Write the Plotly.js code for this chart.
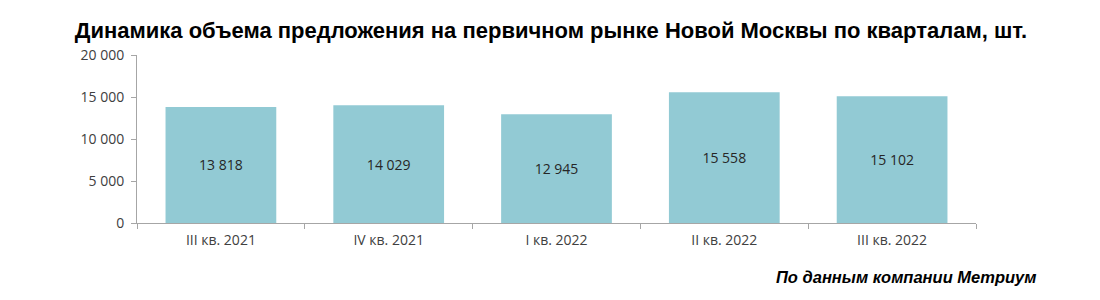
<!DOCTYPE html>
<html><head><meta charset="utf-8">
<script src="https://cdn.plot.ly/plotly-3.0.1.min.js"></script>
<style>html,body{margin:0;padding:0;background:#fff}#chart{width:1100px;height:300px}</style>
</head><body><div id="chart"></div>
<script>
const categories = ["III кв. 2021", "IV кв. 2021", "I кв. 2022", "II кв. 2022", "III кв. 2022"];
const values = [13818, 14029, 12945, 15558, 15102];
const titleText = "Динамика объема предложения на первичном рынке Новой Москвы по кварталам, шт.";
const sourceText = "По данным компании Метриум";

const trace = {
  type: 'bar', x: categories, y: values,
  marker: {color: '#92CAD4'},
  width: 0.66,
  texttemplate: '%{y:,}', textposition: 'inside', insidetextanchor: 'middle',
  textangle: 0,
  textfont: {family: 'Open Sans, sans-serif', size: 14, color: '#262626'},
  hoverinfo: 'none'
};
const layout = {
  width: 1100, height: 300,
  margin: {l: 137, r: 124, t: 55, b: 77},
  paper_bgcolor: '#fff', plot_bgcolor: '#fff',
  separators: ', ',
  showlegend: false,
  title: {text: '<b>' + titleText + '</b>', x: 0.068, xanchor: 'left', y: 0.9, yanchor: 'middle',
    font: {family: 'Liberation Sans, Arial, sans-serif', size: 22, color: '#000'}},
  xaxis: {type: 'category', showline: true, linecolor: '#A6A6A6', linewidth: 1,
    ticks: 'outside', tickson: 'boundaries', ticklen: 5, tickcolor: '#A6A6A6',
    ticklabelstandoff: 4,
    showgrid: false, zeroline: false,
    tickfont: {family: 'Open Sans, sans-serif', size: 14, color: '#404040'}},
  yaxis: {range: [0, 20000], tickvals: [0, 5000, 10000, 15000, 20000], tickformat: ',d',
    showline: true, linecolor: '#A6A6A6', linewidth: 1,
    ticks: 'outside', ticklen: 5, tickcolor: '#A6A6A6',
    ticklabelstandoff: 4,
    showgrid: false, zeroline: false,
    tickfont: {family: 'Open Sans, sans-serif', size: 14, color: '#404040'}},
  annotations: [{text: '<b><i>' + sourceText + '</i></b>', xref: 'paper', yref: 'paper',
    x: 1.074, y: -0.321, xanchor: 'right', yanchor: 'middle', showarrow: false,
    font: {family: 'Liberation Sans, Arial, sans-serif', size: 16.5, color: '#000'}}]
};
Plotly.newPlot('chart', [trace], layout, {displayModeBar: false, staticPlot: true});
</script></body></html>
